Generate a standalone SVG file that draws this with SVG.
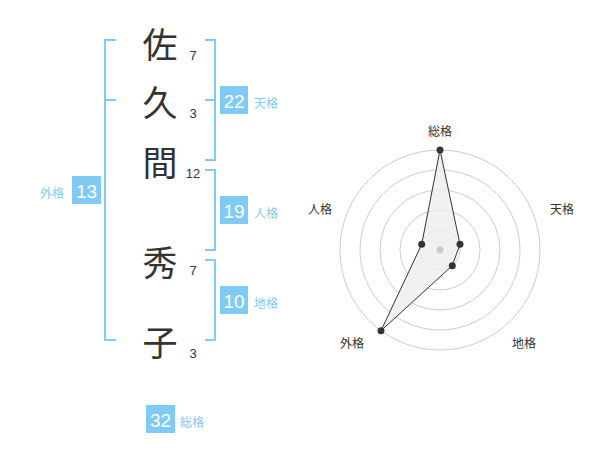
<svg xmlns="http://www.w3.org/2000/svg" width="600" height="470" viewBox="0 0 600 470">
<style>
.k{font-family:"Noto Sans CJK JP","Noto Sans CJK SC",sans-serif;font-size:35px;fill:#333;text-anchor:middle;dominant-baseline:central}
.n{font-family:"Liberation Sans",Arial,sans-serif;font-size:13px;fill:#333;text-anchor:middle;dominant-baseline:central}
.br{fill:none;stroke:#80cbf5;stroke-width:2}
.bx{fill:#80cbf5}
.bt{font-family:"Liberation Sans",Arial,sans-serif;font-size:19px;fill:#fff;text-anchor:middle;dominant-baseline:central}
.lb{font-family:"Noto Sans CJK JP",sans-serif;font-size:12px;fill:#80cbf5;dominant-baseline:central}
.rl{font-family:"Noto Sans CJK JP",sans-serif;font-size:12px;fill:#333;text-anchor:middle;dominant-baseline:central}
.c{fill:none;stroke:#ccc;stroke-width:1}
</style>
<g id="names">
<text class="k" x="160" y="42">佐</text>
<text class="k" x="160" y="100">久</text>
<text class="k" x="160" y="160">間</text>
<text class="k" x="160" y="260">秀</text>
<text class="k" x="160" y="340">子</text>
<text class="n" x="193" y="55">7</text>
<text class="n" x="193" y="113">3</text>
<text class="n" x="193" y="173">12</text>
<text class="n" x="193" y="270">7</text>
<text class="n" x="193" y="353">3</text>
</g>
<g id="connectors">
<path class="br" d="M116,40H105V340H116M105,100H116"/>
<path class="br" d="M205,40H215V160H205M205,100H215"/>
<path class="br" d="M205,170H215V250H205"/>
<path class="br" d="M205,260H215V340H205"/>
</g>
<g id="tenkaku"><rect class="bx" x="220" y="86" width="28" height="28"/><text class="bt" x="234" y="101">22</text><text class="lb" x="254" y="102">天格</text></g>
<g id="jinkaku"><rect class="bx" x="220" y="196" width="28" height="28"/><text class="bt" x="234" y="211">19</text><text class="lb" x="254" y="212">人格</text></g>
<g id="chikaku"><rect class="bx" x="220" y="286" width="28" height="28"/><text class="bt" x="234" y="301">10</text><text class="lb" x="254" y="302">地格</text></g>
<g id="gaikaku"><rect class="bx" x="72" y="176" width="29" height="28"/><text class="bt" x="86.5" y="191">13</text><text class="lb" x="40" y="192">外格</text></g>
<g id="soukaku"><rect class="bx" x="146" y="405" width="29" height="28"/><text class="bt" x="160.5" y="420">32</text><text class="lb" x="180" y="421">総格</text></g>
<g id="radar">
<circle class="c" cx="440" cy="250" r="20"/>
<circle class="c" cx="440" cy="250" r="40"/>
<circle class="c" cx="440" cy="250" r="60"/>
<circle class="c" cx="440" cy="250" r="80"/>
<circle class="c" cx="440" cy="250" r="100"/>
<polygon points="440,150 460,244.3 452.3,265.7 381,330.7 421.7,244.3" fill="#eee" fill-opacity="0.8" stroke="#333" stroke-width="1"/>
<circle cx="440" cy="250" r="3.5" fill="#ccc"/>
<g fill="#333">
<circle cx="440" cy="150" r="3.5"/><circle cx="460" cy="244.3" r="3.5"/><circle cx="452.3" cy="265.7" r="3.5"/><circle cx="381" cy="330.7" r="3.5"/><circle cx="421.7" cy="244.3" r="3.5"/>
</g>
<text class="rl" x="440" y="130">総格</text>
<text class="rl" x="562" y="208">天格</text>
<text class="rl" x="524" y="342">地格</text>
<text class="rl" x="352" y="342">外格</text>
<text class="rl" x="320" y="208">人格</text>
</g>
</svg>
